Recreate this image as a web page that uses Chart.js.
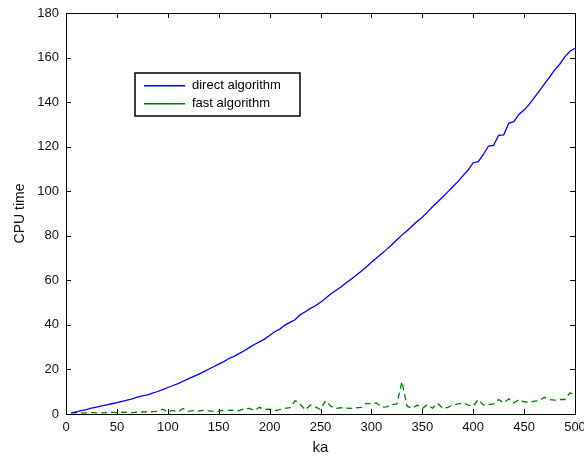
<!DOCTYPE html>
<html>
<head>
<meta charset="utf-8">
<script src="https://cdn.jsdelivr.net/npm/chart.js@4.4.1/dist/chart.umd.min.js"></script>
<style>
  html, body { margin: 0; padding: 0; background: #fff; }
  #wrap { width: 584px; height: 457px; position: relative; }
</style>
</head>
<body>
<div id="wrap"><canvas id="chart"></canvas></div>
<script>
// ka values (x axis)
const ka = [
  5, 10, 15, 20, 25, 30, 35, 40, 45, 50,
  55, 60, 65, 70, 75, 80, 85, 90, 95, 100,
  105, 110, 115, 120, 125, 130, 135, 140, 145, 150,
  155, 160, 165, 170, 175, 180, 185, 190, 195, 200,
  205, 210, 215, 220, 225, 230, 235, 240, 245, 250,
  255, 260, 265, 270, 275, 280, 285, 290, 295, 300,
  305, 310, 315, 320, 325, 330, 335, 340, 345, 350,
  355, 360, 365, 370, 375, 380, 385, 390, 395, 400,
  405, 410, 415, 420, 425, 430, 435, 440, 445, 450,
  455, 460, 465, 470, 475, 480, 485, 490, 495, 500
];

// CPU time, direct algorithm
const directTime = [
  0.5, 1.0, 1.5, 2.0, 2.6, 3.1, 3.6, 4.1, 4.6, 5.1,
  5.7, 6.2, 6.8, 7.6, 8.1, 8.6, 9.4, 10.1, 10.9, 11.9,
  12.8, 13.6, 14.7, 15.8, 16.8, 17.8, 18.9, 20.1, 21.2, 22.4,
  23.5, 24.9, 25.9, 27.1, 28.4, 29.8, 31.2, 32.4, 33.6, 35.2,
  36.9, 38.1, 39.9, 41.1, 42.3, 44.5, 45.9, 47.4, 48.6, 50.2,
  52.0, 53.9, 55.4, 57.0, 58.8, 60.5, 62.3, 64.1, 66.0, 68.1,
  70.0, 71.9, 73.9, 76.0, 78.2, 80.3, 82.3, 84.4, 86.5, 88.3,
  90.6, 93.0, 95.2, 97.4, 99.7, 102.0, 104.3, 107.0, 109.5, 112.8,
  113.3, 116.5, 120.3, 120.6, 125.1, 125.3, 130.6, 131.2, 134.6, 136.4,
  139.0, 142.0, 145.0, 148.2, 151.2, 154.5, 157.0, 160.3, 162.8, 164.2
];

// CPU time, fast algorithm
const fastTime = [
  0.5, 0.6, 0.4, 0.5, 0.6, 0.5, 0.5, 0.6, 0.7, 0.6,
  0.8, 0.7, 0.6, 0.8, 0.9, 1.0, 1.1, 1.2, 2.2, 1.0,
  1.6, 1.0, 2.5, 1.2, 1.5, 1.3, 1.6, 1.4, 1.2, 1.3,
  1.8, 1.6, 1.7, 1.5, 2.3, 2.5, 1.6, 3.0, 2.0, 2.2,
  1.5, 2.0, 2.5, 2.8, 6.0, 4.5, 1.8, 4.0, 3.2, 2.0,
  6.0, 3.5, 2.5, 2.8, 2.6, 2.5, 2.8, 3.0, 4.8, 4.5,
  5.0, 3.0, 3.2, 4.2, 4.5, 14.5, 3.5, 2.5, 4.0, 2.5,
  4.2, 2.6, 4.8, 2.5, 3.0, 4.0, 4.5, 5.0, 4.0, 3.5,
  6.5, 4.0, 4.2, 4.5, 6.5, 5.0, 6.8, 5.0, 6.5, 5.5,
  5.2, 5.8, 6.0, 7.5, 6.5, 6.2, 6.5, 6.5, 9.5, 8.5
];

const seriesLabels = ['direct algorithm', 'fast algorithm'];
const seriesColors = ['#0000ff', '#008000'];
const xTicksStep = 50;
const yTicksStep = 20;

const FONT = 'Liberation Sans, Arial, Helvetica, sans-serif';

// box around plot area with inward ticks, like the original figure
const boxPlugin = {
  id: 'box',
  afterDraw(chart) {
    const { ctx, chartArea: a, scales } = chart;
    ctx.save();
    ctx.strokeStyle = '#000';
    ctx.lineWidth = 1;
    ctx.strokeRect(a.left + 0.5, a.top + 0.5, a.right - a.left, a.bottom - a.top);
    const len = 5;
    ctx.beginPath();
    scales.x.ticks.forEach(t => {
      const px = Math.round(scales.x.getPixelForValue(t.value)) + 0.5;
      ctx.moveTo(px, a.bottom); ctx.lineTo(px, a.bottom - len);
      ctx.moveTo(px, a.top); ctx.lineTo(px, a.top + len);
    });
    scales.y.ticks.forEach(t => {
      const py = Math.round(scales.y.getPixelForValue(t.value)) + 0.5;
      ctx.moveTo(a.left, py); ctx.lineTo(a.left + len, py);
      ctx.moveTo(a.right, py); ctx.lineTo(a.right - len, py);
    });
    ctx.stroke();
    ctx.restore();
  }
};

// legend box drawn inside the plot
const legendBoxPlugin = {
  id: 'legendBox',
  afterDraw(chart) {
    const { ctx } = chart;
    const x0 = 135, y0 = 73, w = 165, h = 43;
    ctx.save();
    ctx.fillStyle = '#fff';
    ctx.fillRect(x0, y0, w, h);
    ctx.strokeStyle = '#000';
    ctx.lineWidth = 1.5;
    ctx.strokeRect(x0, y0, w, h);
    ctx.font = '13px ' + FONT;
    ctx.textBaseline = 'middle';
    seriesLabels.forEach((label, i) => {
      const y = y0 + 12 + i * 18;
      ctx.fillStyle = seriesColors[i];
      ctx.fillRect(x0 + 9, y, 41, 1.5);
      ctx.fillStyle = '#000';
      ctx.fillText(label, x0 + 57, y);
    });
    ctx.restore();
  }
};

new Chart(document.getElementById('chart'), {
  type: 'line',
  data: {
    datasets: [
      {
        label: seriesLabels[0],
        data: ka.map((k, i) => ({ x: k, y: directTime[i] })),
        borderColor: seriesColors[0],
        borderWidth: 1.3,
        pointRadius: 0,
        tension: 0
      },
      {
        label: seriesLabels[1],
        data: ka.map((k, i) => ({ x: k, y: fastTime[i] })),
        borderColor: seriesColors[1],
        borderWidth: 1.3,
        borderDash: [6, 4],
        pointRadius: 0,
        tension: 0
      }
    ]
  },
  options: {
    responsive: true,
    maintainAspectRatio: false,
    animation: false,
    layout: { padding: { top: 13, right: 9, left: 0, bottom: 0 } },
    plugins: {
      legend: { display: false },
      tooltip: { enabled: false }
    },
    scales: {
      x: {
        type: 'linear',
        min: 0,
        max: 500,
        grid: { display: false, drawTicks: false },
        border: { display: false },
        ticks: { stepSize: xTicksStep, color: '#111', font: { family: FONT, size: 13 }, padding: 6, maxRotation: 0 },
        title: { display: true, text: 'ka', color: '#111', font: { family: FONT, size: 15 }, padding: { top: 0, bottom: 0 } },
        afterFit(scale) { scale.height = 43; scale.paddingRight = 0; scale.paddingLeft = 0; }
      },
      y: {
        min: 0,
        max: 180,
        grid: { display: false, drawTicks: false },
        border: { display: false },
        ticks: { stepSize: yTicksStep, color: '#111', font: { family: FONT, size: 13 }, padding: 7 },
        title: { display: true, text: 'CPU time', color: '#111', font: { family: FONT, size: 14 }, padding: { top: 12, bottom: 0 } },
        afterFit(scale) { scale.width = 66; scale.paddingTop = 0; scale.paddingBottom = 0; }
      }
    }
  },
  plugins: [boxPlugin, legendBoxPlugin]
});
</script>
</body>
</html>
